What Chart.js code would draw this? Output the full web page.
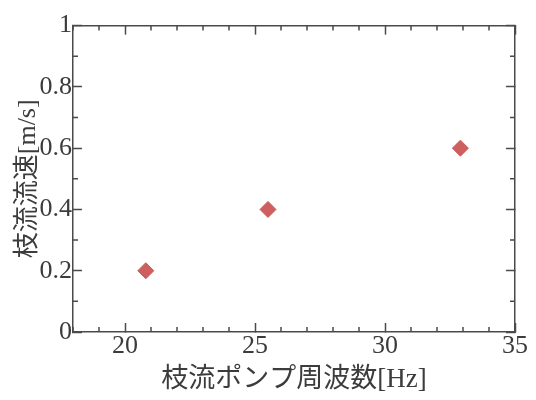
<!DOCTYPE html>
<html>
<head>
<meta charset="utf-8">
<script src="https://cdn.jsdelivr.net/npm/chart.js@4"></script>
<style>
  html, body { margin: 0; padding: 0; background: #fff; }
  #wrap { width: 536px; height: 400px; }
</style>
</head>
<body>
<div id="wrap"><canvas id="chart" width="536" height="400"></canvas></div>
<script>
const pumpFreq = [20.8, 25.5, 32.9];
const branchVelocity = [0.2, 0.4, 0.6];
const xMajor = [20, 25, 30, 35];
const yMajor = [0, 0.2, 0.4, 0.6, 0.8, 1];
const xTitle = '枝流ポンプ周波数[Hz]';
const yTitle = '枝流流速[m/s]';

const axisColor = '#4a4a4a';
const textColor = '#3c3c3c';
const serif = '"Liberation Serif", "Noto Sans CJK JP", serif';

function fixSize(prop, v) {
  return function (scale) { scale[prop] = v; };
}

const minorTicks = {
  id: 'minorTicks',
  afterDraw(chart) {
    const ctx = chart.ctx;
    const x = chart.scales.x, y = chart.scales.y;
    const a = chart.chartArea;
    const len = 5;
    ctx.save();
    ctx.strokeStyle = axisColor;
    ctx.lineWidth = 1.5;
    ctx.beginPath();
    for (let v = 18; v <= 35; v++) {
      if (v % 5 === 0) continue;
      const px = x.getPixelForValue(v);
      ctx.moveTo(px, a.bottom); ctx.lineTo(px, a.bottom - len);
      ctx.moveTo(px, a.top); ctx.lineTo(px, a.top + len);
    }
    for (let k = 1; k < 10; k += 2) {
      const py = y.getPixelForValue(k / 10);
      ctx.moveTo(a.left, py); ctx.lineTo(a.left + len, py);
      ctx.moveTo(a.right, py); ctx.lineTo(a.right - len, py);
    }
    ctx.stroke();
    ctx.restore();
  }
};

const gridOpts = {
  drawOnChartArea: false,
  drawTicks: true,
  tickLength: -9,
  tickColor: axisColor,
  tickWidth: 1.5
};
const borderOpts = { display: true, color: axisColor, width: 1.5 };

new Chart(document.getElementById('chart').getContext('2d'), {
  type: 'scatter',
  data: {
    datasets: [{
      data: pumpFreq.map((f, i) => ({ x: f, y: branchVelocity[i] })),
      pointStyle: 'rectRot',
      pointRadius: 8,
      backgroundColor: '#cf5f5e',
      borderColor: '#c85857',
      borderWidth: 1
    }]
  },
  options: {
    responsive: false,
    animation: false,
    layout: { padding: 0 },
    plugins: { legend: { display: false }, tooltip: { enabled: false } },
    scales: {
      x: {
        type: 'linear', position: 'bottom', min: 18, max: 35,
        afterBuildTicks: s => { s.ticks = xMajor.map(v => ({ value: v })); },
        ticks: { autoSkip: false, maxRotation: 0, padding: 8, color: textColor,
                 font: { family: serif, size: 26 }, callback: v => String(v) },
        grid: gridOpts, border: borderOpts,
        title: { display: true, text: xTitle, color: textColor,
                 font: { family: serif, size: 27 }, padding: { top: 0, bottom: 4 } },
        afterFit: fixSize('height', 68)
      },
      x2: {
        type: 'linear', position: 'top', min: 18, max: 35,
        afterBuildTicks: s => { s.ticks = xMajor.map(v => ({ value: v })); },
        ticks: { display: false }, grid: gridOpts, border: borderOpts,
        afterFit: fixSize('height', 20)
      },
      y: {
        type: 'linear', position: 'left', min: 0, max: 1,
        afterBuildTicks: s => { s.ticks = yMajor.map(v => ({ value: v })); },
        ticks: { autoSkip: false, padding: 10, color: textColor,
                 font: { family: serif, size: 26 }, callback: v => String(v) },
        grid: gridOpts, border: borderOpts,
        title: { display: true, text: yTitle, color: textColor,
                 font: { family: serif, size: 26 }, padding: { top: 13, bottom: 0 } },
        afterFit: fixSize('width', 73)
      },
      y2: {
        type: 'linear', position: 'right', min: 0, max: 1,
        afterBuildTicks: s => { s.ticks = yMajor.map(v => ({ value: v })); },
        ticks: { display: false }, grid: gridOpts, border: borderOpts,
        afterFit: fixSize('width', 21)
      }
    }
  },
  plugins: [minorTicks]
});
</script>
</body>
</html>
